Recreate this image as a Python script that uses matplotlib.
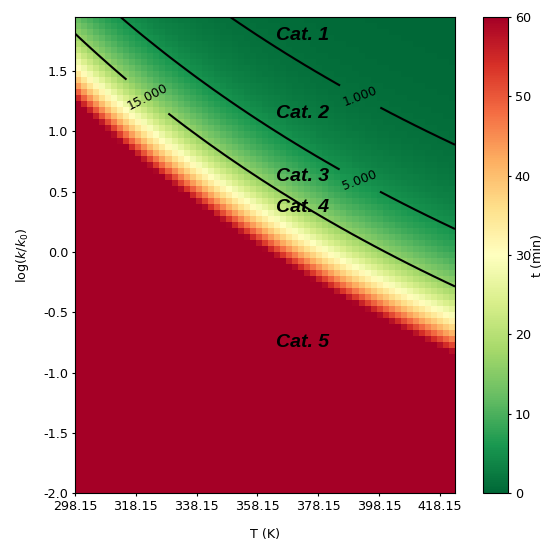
import numpy as np
import matplotlib
matplotlib.use("Agg")
import matplotlib.pyplot as plt

plt.rcParams["axes.unicode_minus"] = False
plt.rcParams["font.size"] = 9.2
plt.rcParams["xtick.major.size"] = 2.5
plt.rcParams["ytick.major.size"] = 2.5
plt.rcParams["xtick.major.pad"] = 2.5
plt.rcParams["ytick.major.pad"] = 2.5

# Temperature grid (K) and log rate-constant grid
T = np.linspace(298.15, 423.15, 64)
logk = np.arange(-2.0, 2.0, 0.05)

# Arrhenius-type time model: log10(t) = a_ref + B*(1/T - 1/T_ref) - log10(k/k0)
T_ref = 298.15
log_t_ref = 2.988          # log10 of t (min) at T_ref and k = k0
B = 2118.0                 # Ea / (R ln 10), K

contour_levels = [1, 5, 15]
t_min, t_max = 0, 60

x_ticks = [298.15, 318.15, 338.15, 358.15, 378.15, 398.15, 418.15]
y_ticks = [-2.0, -1.5, -1.0, -0.5, 0.0, 0.5, 1.0, 1.5]
cbar_ticks = [0, 10, 20, 30, 40, 50, 60]

cat_labels = ["Cat. 1", "Cat. 2", "Cat. 3", "Cat. 4", "Cat. 5"]
cat_y = [1.80, 1.15, 0.63, 0.37, -0.755]
cat_x = 364.4

TT, KK = np.meshgrid(T, logk)
t = 10 ** (log_t_ref + B * (1.0 / TT - 1.0 / T_ref) - KK)

fig = plt.figure(figsize=(5.45, 5.41), dpi=100)
ax = fig.add_axes([0.1376, 0.0887, 0.6973, 0.8799])
cax = fig.add_axes([0.886, 0.0887, 0.0459, 0.8799])

mesh = ax.pcolormesh(T, logk, t[:-1, :-1], cmap="RdYlGn_r",
                     vmin=t_min, vmax=t_max, shading="flat")
cs = ax.contour(TT, KK, t, levels=contour_levels, colors="black",
                linewidths=1.5)
labels = ax.clabel(cs, fmt="%1.3f", fontsize=9, inline=True,
                   manual=[(391.9, 1.287), (391.9, 0.596), (322.3, 1.30)])
label_rot = {"1.000": 21, "5.000": 21, "15.000": 27}
for txt in labels:
    txt.set_rotation(label_rot.get(txt.get_text(), txt.get_rotation()))

for lab, yy in zip(cat_labels, cat_y):
    ax.text(cat_x, yy, lab, fontsize=14, fontweight="bold",
            fontstyle="italic", family="Liberation Sans",
            ha="left", va="center")

ax.set_xticks(x_ticks)
ax.set_xticklabels([f"{v:.2f}" for v in x_ticks])
ax.set_yticks(y_ticks)
ax.set_xlim(298.15, 423.15)
ax.set_ylim(-2.0, 1.95)
ax.set_xlabel("T (K)", labelpad=11)
ax.set_ylabel(r"$\log(k/k_0)$", labelpad=9)

cb = fig.colorbar(mesh, cax=cax, ticks=cbar_ticks)
cb.set_label("t (min)", labelpad=0)

fig.savefig("out.png", dpi=100)
